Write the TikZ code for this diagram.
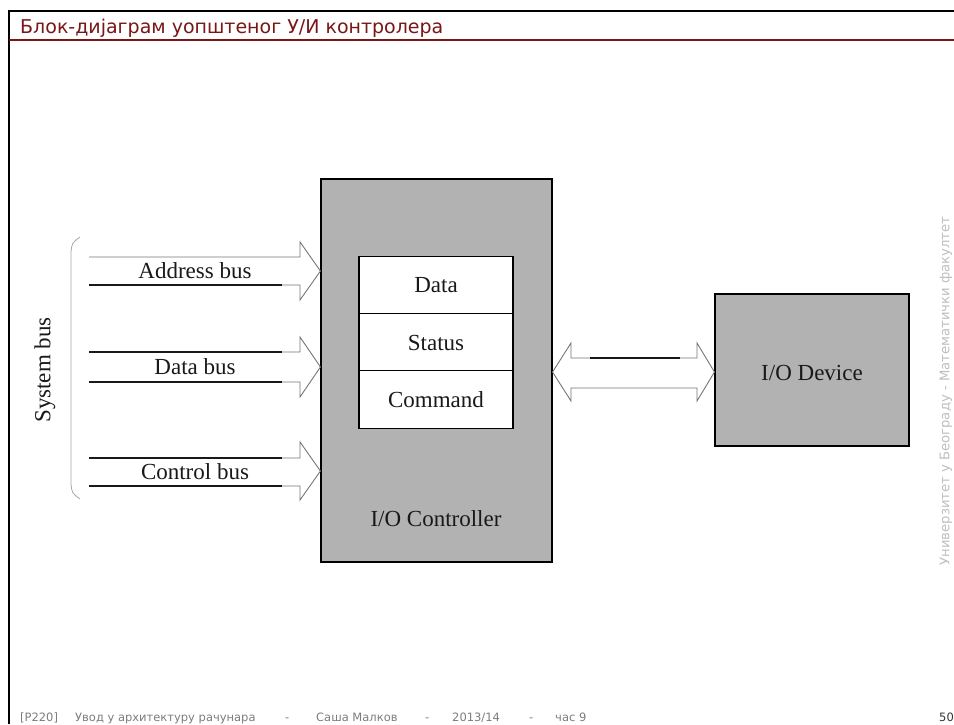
\documentclass[tikz,border=0pt]{standalone}
\usepackage{fontspec}
\setmainfont{Liberation Serif}
\newfontfamily\slidefont{DejaVu Sans}
\definecolor{boxgray}{RGB}{178,178,178}
\definecolor{titlered}{RGB}{122,22,22}
\definecolor{footgray}{RGB}{125,125,125}
\definecolor{edgegray}{RGB}{118,118,118}
\definecolor{inkblack}{RGB}{25,25,25}

\tikzset{
  block/.style={draw=black, line width=1.1pt, fill=boxgray, inner sep=0pt},
  reg/.style={draw=black, line width=1.1pt, fill=white, inner sep=0pt,
              minimum width=154pt, minimum height=57.3pt,
              font=\fontsize{23}{25}\selectfont, text=inkblack},
  lbl/.style={font=\fontsize{23}{25}\selectfont, text=inkblack, inner sep=0pt},
  hollow/.style={draw=edgegray, line width=0.9pt, line join=miter},
  shaft/.style={draw=inkblack, line width=1.1pt},
  foot/.style={font=\slidefont\fontsize{11.5}{13}\selectfont, text=footgray,
               inner sep=0pt, anchor=base west},
}

\begin{document}
\begin{tikzpicture}[x=1pt, y=-1pt]
\useasboundingbox (0,0) rectangle (954,724);
\fill[white] (0,0) rectangle (954,724);

% slide frame and title
\draw[black, line width=2pt] (9,724) -- (9,11) -- (954,11);
\draw[titlered, line width=1.6pt] (9,40) -- (954,40);
\node[font=\slidefont\fontsize{19}{22}\selectfont, text=titlered, inner sep=0pt,
      anchor=base west] (title) at (20,33) {Блок-дијаграм уопштеног У/И контролера};

% controller with its registers
\node[block, minimum width=231pt, minimum height=383pt] (ctrl) at (436.5,370.5) {};
\node[reg] (regdata) at (436,285) {Data};
\node[reg] (regstatus) at (436,342.5) {Status};
\node[reg] (regcmd) at (436,399.5) {Command};
\node[lbl] (ctrllbl) at (436,519) {I/O Controller};

% device
\node[block, minimum width=194pt, minimum height=152pt] (dev) at (812,370) {};
\node[lbl] (devlbl) at (812,373) {I/O Device};

% system bus arrows into the controller
\coordinate (atip) at (ctrl.west |- 0,271);
\coordinate (dtip) at (ctrl.west |- 0,367);
\coordinate (ctip) at (ctrl.west |- 0,471);

\draw[hollow] (89,257) -- (300,257) -- (300,242) -- (atip) -- (300,300) -- (300,285) -- (89,285);
\draw[shaft] (89,285) -- (282,285);

\draw[hollow] (89,352) -- (300,352) -- (300,337) -- (dtip) -- (300,397) -- (300,382) -- (89,382);
\draw[shaft] (89,352) -- (282,352);
\draw[shaft] (89,382) -- (282,382);

\draw[hollow] (89,458) -- (300,458) -- (300,442) -- (ctip) -- (300,500) -- (300,486) -- (89,486);
\draw[shaft] (89,458) -- (282,458);
\draw[shaft] (89,486) -- (282,486);

\node[lbl] (addrlbl) at (195,271) {Address bus};
\node[lbl] (datalbl) at (195,367) {Data bus};
\node[lbl] (ctrlbuslbl) at (195,472) {Control bus};

% bracket grouping the three buses
\draw[gray!70, line width=0.8pt] (80,237) .. controls (72,243) .. (71,252) -- (71,484)
      .. controls (72,493) .. (80,499);
\node[lbl, rotate=90] (sysbus) at (45,370) {System bus};

% two-way link between controller and device
\coordinate (ltip) at (ctrl.east |- 0,372);
\coordinate (rtip) at (dev.west |- 0,372);
\draw[hollow] (571,358) -- (571,343) -- (ltip) -- (571,401) -- (571,388) -- (697,388)
      -- (697,401) -- (rtip) -- (697,343) -- (697,358) -- cycle;
\draw[shaft] (590,358) -- (680,358);

% side caption and footer
\node[font=\slidefont\fontsize{13.2}{15}\selectfont, text=gray!50, rotate=90, inner sep=0pt]
      (univ) at (946,391) {Универзитет у Београду - Математички факултет};
\node[foot] (fcode) at (20,721) {[P220]};
\node[foot] (fcourse) at (75,721) {Увод у архитектуру рачунара};
\node[foot] (fdash1) at (285,721) {-};
\node[foot] (fauthor) at (316,721) {Саша Малков};
\node[foot] (fdash2) at (425,721) {-};
\node[foot] (fyear) at (452,721) {2013/14};
\node[foot] (fdash3) at (529,721) {-};
\node[foot] (fclass) at (555,721) {час 9};
\node[foot, text=black!80] (fpage) at (939,721) {50};
\end{tikzpicture}
\end{document}
